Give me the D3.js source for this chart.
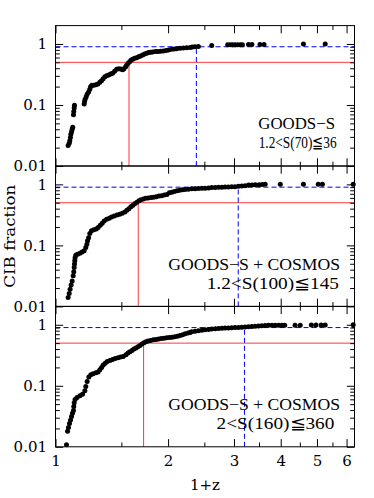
<!DOCTYPE html>
<html>
<head>
<meta charset="utf-8">
<script src="https://cdn.jsdelivr.net/npm/d3@7"></script>
<style>
  html, body { margin: 0; padding: 0; background: #fff; }
  svg { display: block; }
  .tick text { font-family: "DejaVu Serif", serif; font-size: 15px; fill: #000; }
  .tick line { stroke: #000; }
  .note { font-family: "Liberation Serif", "Times New Roman", serif; font-size: 17px; white-space: pre; }
</style>
</head>
<body>
<div id="chart"></div>
<script>
// valeurs : 1+z et fraction cumulée du CIB
const z70 = [1.081,1.088,1.092,1.096,1.099,1.104,1.108,1.112,
  1.117,1.119,1.122,1.124,
  1.193,1.196,1.2,1.208,1.215,1.226,1.235,1.241,1.251,1.266,
  1.282,1.298,1.314,1.327,1.341,1.355,1.37,1.387,1.404,1.421,
  1.439,1.457,1.475,1.494,1.512,1.524,1.54,1.552,1.564,1.578,
  1.591,1.607,1.627,1.647,1.668,1.689,1.71,1.731,1.753,1.774,
  1.796,1.818,1.849,1.879,1.91,1.942,1.975,2.006,2.04,2.074,
  2.108,2.152,2.197,2.243,2.29,2.322,2.361,2.41,2.616,2.886,
  2.93,2.97,3.02,3.07,3.12,3.16,3.28,3.35,3.52,3.61,
  4.6,5.26];
const f70 = [0.0217,0.0235,0.026,0.0293,0.033,0.0365,0.040,0.043,
  0.069,0.078,0.089,0.099,
  0.104,0.114,0.124,0.136,0.150,0.163,0.181,0.199,0.210,0.210,
  0.215,0.220,0.236,0.250,0.270,0.290,0.302,0.310,0.322,0.332,
  0.357,0.384,0.393,0.388,0.378,0.393,0.424,0.457,0.483,0.512,
  0.541,0.563,0.583,0.596,0.618,0.635,0.66,0.687,0.706,0.722,
  0.733,0.741,0.75,0.75,0.761,0.77,0.779,0.798,0.816,0.827,
  0.837,0.85,0.86,0.868,0.879,0.888,0.897,0.91,0.94,0.97,
  0.97,0.97,0.97,0.97,0.97,0.97,0.98,0.98,0.98,0.98,
  1.0,1.0];

const z100 = [1.081,1.088,1.094,1.101,1.108,1.115,1.119,1.122,1.124,1.126,
  1.128,1.133,1.145,1.162,1.178,1.193,1.205,1.213,1.218,1.226,
  1.235,1.248,1.266,1.285,1.3,1.317,1.333,1.349,1.37,1.392,
  1.412,1.435,1.46,1.484,1.508,1.533,1.552,1.571,1.591,1.611,
  1.631,1.651,1.672,1.693,1.717,1.742,1.769,1.8,1.83,1.859,
  1.89,1.921,1.953,1.986,2.016,2.046,2.078,2.113,2.148,2.181,
  2.218,2.265,2.312,2.361,2.41,2.462,2.511,2.565,2.616,2.673,
  2.728,2.785,2.84,2.898,2.959,3.02,3.084,3.149,3.213,3.281,
  3.35,3.418,3.5,3.57,3.635,3.99,4.6,5.04,5.17,6.25];
const f100 = [0.014,0.0163,0.0191,0.0225,0.026,0.0318,0.037,0.0436,0.0495,0.056,
  0.063,0.069,0.0716,0.074,0.078,0.0813,0.0925,0.104,0.119,0.134,
  0.156,0.173,0.18,0.185,0.196,0.214,0.231,0.252,0.268,0.279,
  0.293,0.304,0.316,0.324,0.337,0.354,0.377,0.40,0.428,0.456,
  0.485,0.51,0.54,0.561,0.576,0.592,0.60,0.607,0.617,0.625,
  0.642,0.65,0.668,0.684,0.727,0.744,0.764,0.785,0.803,0.815,
  0.825,0.835,0.845,0.845,0.856,0.866,0.866,0.876,0.886,0.886,
  0.897,0.897,0.907,0.907,0.918,0.918,0.93,0.94,0.952,0.977,
  0.977,0.985,0.99,0.995,1.0,1.0,1.0,1.0,1.0,1.0];

const z160 = [1.07,1.077,1.083,1.09,1.097,1.104,1.11,1.117,1.119,1.122,
  1.128,1.142,1.162,1.181,1.198,1.205,1.215,1.228,1.243,1.26,
  1.282,1.3,1.314,1.328,1.341,1.358,1.375,1.398,1.421,1.444,
  1.469,1.493,1.517,1.543,1.562,1.581,1.601,1.621,1.641,1.661,
  1.682,1.703,1.724,1.745,1.767,1.796,1.826,1.857,1.887,1.918,
  1.95,1.983,2.016,2.049,2.083,2.118,2.152,2.187,2.222,2.261,
  2.29,2.312,2.361,2.41,2.462,2.511,2.565,2.616,2.673,2.728,
  2.785,2.84,2.898,2.959,3.02,3.084,3.149,3.213,3.281,3.35,
  3.418,3.488,3.56,3.635,3.71,3.79,3.87,3.95,4.03,4.1,
  4.37,4.51,4.83,4.97,5.13,5.26,6.25];
const f160 = [0.0108,0.018,0.0207,0.024,0.0276,0.0314,0.0355,0.0394,0.0456,0.0525,
  0.0597,0.064,0.0686,0.0728,0.0828,0.0975,0.118,0.139,0.152,0.158,
  0.163,0.169,0.183,0.199,0.22,0.235,0.25,0.26,0.27,0.28,
  0.288,0.296,0.303,0.323,0.345,0.36,0.379,0.40,0.416,0.437,
  0.459,0.483,0.507,0.527,0.541,0.553,0.568,0.576,0.586,0.593,
  0.60,0.61,0.617,0.624,0.634,0.648,0.665,0.688,0.714,0.733,
  0.75,0.765,0.785,0.80,0.815,0.828,0.84,0.85,0.862,0.872,
  0.876,0.885,0.888,0.897,0.9,0.903,0.91,0.915,0.925,0.935,
  0.945,0.955,0.965,0.975,0.98,0.98,0.98,0.98,0.98,0.98,
  0.985,0.985,0.99,0.99,0.995,0.995,1.0];

const fieldLabels = ["GOODS\u2212S", "GOODS\u2212S + COSMOS", "GOODS\u2212S + COSMOS"];
const cutLabels = ["1.2<S(70)\u226636", "1.2<S(100)\u2266145", "2<S(160)\u2266360"];
const halfZ = [1.572, 1.664, 1.72];    // z où la fraction atteint 50%
const ninetyZ = [2.38, 3.08, 3.2];     // z où la fraction atteint 90%
const halfFrac = 0.5, ninetyFrac = 0.9;

const xTicks = [1, 2, 3, 4, 5, 6];
const xMinor = [1.5, 2.5, 3.5, 4.5, 5.5];
const yTicks = [0.01, 0.1, 1];
const yMinor = [0.02, 0.03, 0.04, 0.05, 0.06, 0.07, 0.08, 0.09,
  0.2, 0.3, 0.4, 0.5, 0.6, 0.7, 0.8, 0.9];

const series = [[z70, f70], [z100, f100], [z160, f160]];

// mise en page
const W = 374, H = 498;
const x0 = 55.5, x1 = 354.5;
const top0 = 25.6, ph = 140.4;
const major = 7.7, minor = 4.3;
// fin de ligne et largeur des annotations (pixels)
const noteEnd = [[335, 336.7], [340, 339], [340, 334.3]];
const noteLen = [[76.7, 78], [171.7, 132.3], [171.7, 117.7]];

const svg = d3.select("#chart").append("svg")
  .attr("width", W).attr("height", H);

const x = d3.scaleLog().domain([1, 6.3]).range([x0, x1]);

function clean(g) {
  g.select(".domain").remove();
  g.attr("font-family", null).attr("font-size", null);
}

series.forEach(function(s, i) {
  const top = top0 + i * ph, bot = top + ph;
  const y = d3.scaleLog().domain([0.01, 2]).range([bot, top]);
  const g = svg.append("g");

  // lignes de référence 50% (rouge) et 90% (bleu)
  g.append("line").attr("x1", x0).attr("x2", x1)
    .attr("y1", y(halfFrac)).attr("y2", y(halfFrac))
    .attr("stroke", "#ff3838").attr("stroke-width", 1);
  g.append("line").attr("x1", x(halfZ[i])).attr("x2", x(halfZ[i]))
    .attr("y1", bot).attr("y2", y(halfFrac))
    .attr("stroke", "#ff3838").attr("stroke-width", 1);
  g.append("line").attr("x1", x0).attr("x2", x1)
    .attr("y1", y(ninetyFrac)).attr("y2", y(ninetyFrac))
    .attr("stroke", "#0000ff").attr("stroke-width", 1).attr("stroke-dasharray", "5,3");
  g.append("line").attr("x1", x(ninetyZ[i])).attr("x2", x(ninetyZ[i]))
    .attr("y1", bot).attr("y2", y(ninetyFrac))
    .attr("stroke", "#0000ff").attr("stroke-width", 1).attr("stroke-dasharray", "5,3");

  // points
  g.append("g").selectAll("circle")
    .data(d3.zip(s[0], s[1]))
    .join("circle")
    .attr("cx", d => x(d[0]))
    .attr("cy", d => y(d[1]))
    .attr("r", 2.5)
    .attr("fill", "#000");

  // axes, graduations vers l'intérieur
  g.append("g").attr("transform", `translate(${x0},0)`)
    .call(d3.axisLeft(y).tickValues(yTicks).tickSize(-major).tickPadding(8.5)
      .tickFormat(d3.format("~g"))).call(clean);
  g.append("g").attr("transform", `translate(${x0},0)`)
    .call(d3.axisLeft(y).tickValues(yMinor).tickSize(-minor).tickFormat("")).call(clean);
  g.append("g").attr("transform", `translate(${x1},0)`)
    .call(d3.axisRight(y).tickValues(yTicks).tickSize(-major).tickFormat("")).call(clean);
  g.append("g").attr("transform", `translate(${x1},0)`)
    .call(d3.axisRight(y).tickValues(yMinor).tickSize(-minor).tickFormat("")).call(clean);

  g.append("g").attr("transform", `translate(0,${top})`)
    .call(d3.axisTop(x).tickValues(xTicks).tickSize(-major).tickFormat("")).call(clean);
  g.append("g").attr("transform", `translate(0,${top})`)
    .call(d3.axisTop(x).tickValues(xMinor).tickSize(-minor).tickFormat("")).call(clean);
  const last = i === series.length - 1;
  g.append("g").attr("transform", `translate(0,${bot})`)
    .call(d3.axisBottom(x).tickValues(xTicks).tickSize(-major).tickPadding(9)
      .tickFormat(last ? d3.format("d") : "")).call(clean);
  g.append("g").attr("transform", `translate(0,${bot})`)
    .call(d3.axisBottom(x).tickValues(xMinor).tickSize(-minor).tickFormat("")).call(clean);

  g.append("rect").attr("x", x0).attr("y", top)
    .attr("width", x1 - x0).attr("height", ph)
    .attr("fill", "none").attr("stroke", "#000").attr("stroke-width", 1);

  // annotations
  [fieldLabels[i], cutLabels[i]].forEach(function(t, k) {
    g.append("text")
      .attr("class", "note")
      .attr("x", noteEnd[i][k])
      .attr("y", top + (k === 0 ? 103.5 : 122.5))
      .attr("text-anchor", "end")
      .attr("textLength", noteLen[i][k])
      .attr("lengthAdjust", "spacingAndGlyphs")
      .text(t);
  });
});

svg.append("text")
  .attr("transform", `translate(14.5,${top0 + 1.5 * ph}) rotate(-90)`)
  .attr("text-anchor", "middle")
  .attr("textLength", 103)
  .attr("lengthAdjust", "spacingAndGlyphs")
  .style("font-family", "'DejaVu Serif', serif")
  .style("font-size", "15px")
  .text("CIB fraction");

svg.append("text")
  .attr("x", (x0 + x1) / 2)
  .attr("y", 490)
  .attr("text-anchor", "middle")
  .style("font-family", "'DejaVu Serif', serif")
  .style("font-size", "15px")
  .text("1+z");
</script>
</body>
</html>
